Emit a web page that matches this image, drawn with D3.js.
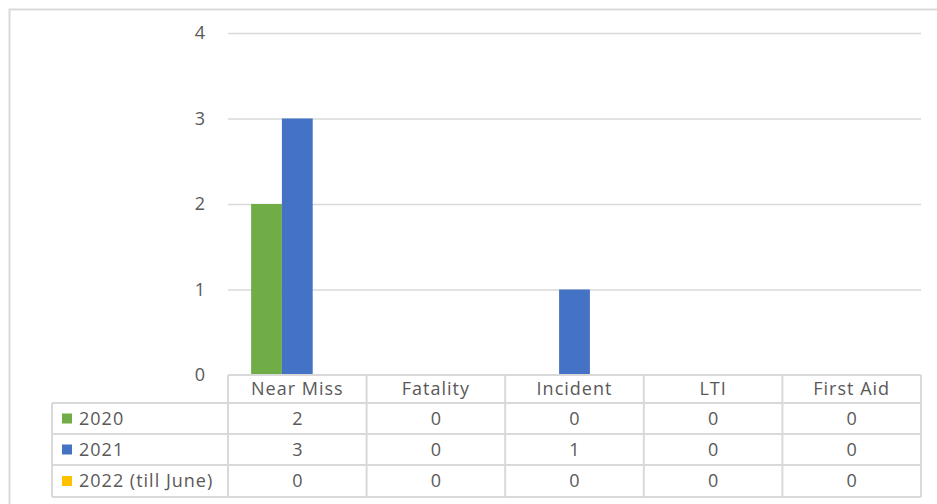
<!DOCTYPE html>
<html><head><meta charset="utf-8">
<script src="https://cdn.jsdelivr.net/npm/d3@7"></script>
<style>body{margin:0;background:#fff;}svg{display:block;font-family:"Open Sans",sans-serif;}</style>
</head><body>
<svg id="c" width="937" height="504"></svg>
<script>
const categories = ["Near Miss","Fatality","Incident","LTI","First Aid"];
const seriesNames = ["2020","2021","2022 (till June)"];
const values2020 = [2,0,0,0,0];
const values2021 = [3,0,1,0,0];
const values2022 = [0,0,0,0,0];
const colors = ["#70ad47","#4472c4","#ffc000"];
const yTicks = [0,1,2,3,4];

const series = [values2020, values2021, values2022];
const svg = d3.select("#c");
const pLeft = 228, pRight = 921, pTop = 33, pBottom = 375;
const grid = "#d9d9d9", txt = "#595959";
const fs = 18, ls = "1px";

svg.append("rect").attr("x",9.5).attr("y",9.5).attr("width",940).attr("height",520)
  .attr("fill","none").attr("stroke",grid).attr("stroke-width",2);

const x = d3.scaleBand().domain(categories).range([pLeft,pRight]).paddingInner(0).paddingOuter(0);
const x1 = d3.scaleBand().domain(seriesNames).range([0,x.bandwidth()]).paddingInner(0).paddingOuter(0.75);
const y = d3.scaleLinear().domain([0,4]).range([pBottom,pTop]);

const yAxis = d3.axisLeft(y).tickValues(yTicks).tickSize(-(pRight-pLeft)).tickFormat(d3.format("d")).tickPadding(23);
const ga = svg.append("g").attr("transform",`translate(${pLeft},0)`).call(yAxis);
ga.select(".domain").remove();
ga.selectAll(".tick line").attr("stroke",grid).attr("stroke-width",1.5);
ga.selectAll(".tick text").attr("fill",txt).attr("font-size",fs).attr("font-family","Open Sans");
ga.selectAll(".tick").filter(d=>d===0).select("line").remove();

series.forEach((vals,si)=>{
  svg.append("g").selectAll("rect").data(vals).join("rect")
    .attr("x",(d,i)=>x(categories[i])+x1(seriesNames[si]))
    .attr("width",x1.bandwidth())
    .attr("y",d=>y(d)).attr("height",d=>y(0)-y(d))
    .attr("fill",colors[si]);
});

const rowEdges = [375,403,434,465,497];
const legLeft = 52;
const tg = svg.append("g");
tg.append("line").attr("x1",pLeft).attr("x2",pRight).attr("y1",rowEdges[0]).attr("y2",rowEdges[0]).attr("stroke",grid).attr("stroke-width",2);
rowEdges.slice(1).forEach(yy=>{
  tg.append("line").attr("x1",legLeft).attr("x2",pRight).attr("y1",yy).attr("y2",yy).attr("stroke",grid).attr("stroke-width",2);
});
const vx = [pLeft].concat(categories.map(c=>x(c)+x.bandwidth()));
vx.forEach(xx=>{
  tg.append("line").attr("x1",xx).attr("x2",xx).attr("y1",rowEdges[0]).attr("y2",rowEdges[4]).attr("stroke",grid).attr("stroke-width",2);
});
tg.append("line").attr("x1",legLeft).attr("x2",legLeft).attr("y1",rowEdges[1]).attr("y2",rowEdges[4]).attr("stroke",grid).attr("stroke-width",2);

categories.forEach(c=>{
  tg.append("text").attr("x",x(c)+x.bandwidth()/2).attr("y",(rowEdges[0]+rowEdges[1])/2)
    .attr("dy","0.35em").attr("text-anchor","middle").attr("fill",txt).attr("font-size",fs)
    .attr("letter-spacing",ls).text(c);
});
series.forEach((vals,si)=>{
  const cy = (rowEdges[si+1]+rowEdges[si+2])/2;
  tg.append("rect").attr("x",62).attr("y",cy-5).attr("width",10).attr("height",10).attr("fill",colors[si]);
  tg.append("text").attr("x",79).attr("y",cy).attr("dy","0.35em").attr("fill",txt).attr("font-size",fs)
    .attr("letter-spacing",ls).text(seriesNames[si]);
  vals.forEach((v,i)=>{
    tg.append("text").attr("x",x(categories[i])+x.bandwidth()/2).attr("y",cy).attr("dy","0.35em")
      .attr("text-anchor","middle").attr("fill",txt).attr("font-size",fs).text(v);
  });
});
</script>
</body></html>
